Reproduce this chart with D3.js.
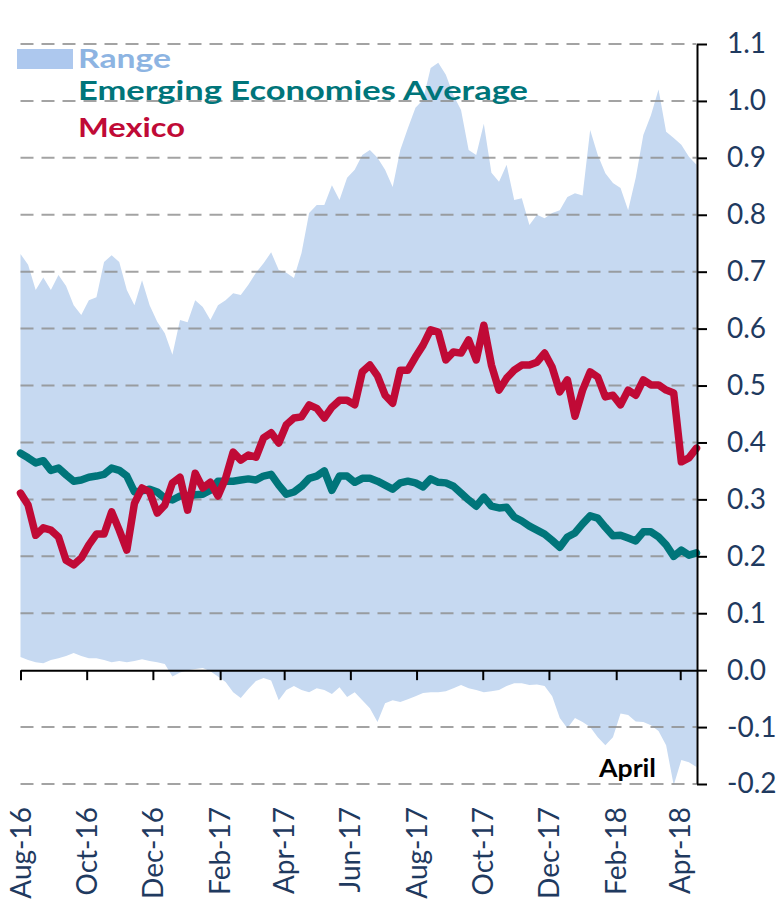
<!DOCTYPE html>
<html>
<head>
<meta charset="utf-8">
<script src="https://cdn.jsdelivr.net/npm/d3@7/dist/d3.min.js"></script>
<style>
  html, body { margin: 0; padding: 0; background: #fff; }
  svg { display: block; font-family: Lato, "Open Sans", sans-serif; }
</style>
</head>
<body>
<svg id="chart" width="778" height="901"></svg>
<script>
// Weekly observations, Aug-2016 to mid-Apr-2018
const rangeHigh = [0.731,0.712,0.668,0.690,0.668,0.694,0.675,0.641,0.624,0.650,
  0.655,0.717,0.729,0.717,0.668,0.641,0.685,0.641,0.612,0.592,
  0.554,0.615,0.611,0.650,0.638,0.615,0.641,0.650,0.662,0.659,
  0.677,0.698,0.715,0.734,0.703,0.698,0.689,0.733,0.803,0.817,
  0.817,0.852,0.826,0.865,0.879,0.905,0.914,0.900,0.879,0.849,
  0.914,0.952,0.988,1.002,1.058,1.067,1.046,1.010,0.984,0.914,
  0.905,0.960,0.874,0.858,0.888,0.826,0.829,0.782,0.800,0.794,
  0.803,0.808,0.831,0.838,0.834,0.949,0.905,0.873,0.856,0.847,
  0.808,0.865,0.940,0.975,1.020,0.946,0.935,0.923,0.902,0.888];

const rangeLow = [0.023,0.018,0.014,0.012,0.018,0.021,0.025,0.030,0.025,0.021,
  0.021,0.018,0.014,0.016,0.014,0.016,0.019,0.016,0.014,0.011,
  -0.011,-0.004,0.000,0.002,0.004,-0.002,-0.011,-0.021,-0.039,-0.049,
  -0.033,-0.019,-0.014,-0.018,-0.053,-0.035,-0.028,-0.035,-0.039,-0.032,
  -0.035,-0.042,-0.030,-0.047,-0.039,-0.053,-0.067,-0.091,-0.058,-0.053,
  -0.056,-0.051,-0.046,-0.040,-0.039,-0.039,-0.037,-0.032,-0.026,-0.032,
  -0.035,-0.039,-0.037,-0.035,-0.028,-0.023,-0.023,-0.026,-0.025,-0.028,
  -0.046,-0.084,-0.102,-0.084,-0.091,-0.100,-0.118,-0.132,-0.118,-0.076,
  -0.079,-0.090,-0.091,-0.097,-0.107,-0.132,-0.202,-0.158,-0.162,-0.170];

const emAverage = [0.381,0.373,0.364,0.368,0.351,0.355,0.343,0.332,0.334,0.339,
  0.341,0.344,0.355,0.351,0.341,0.313,0.315,0.318,0.313,0.302,
  0.299,0.306,0.306,0.308,0.309,0.316,0.332,0.332,0.332,0.334,
  0.336,0.334,0.341,0.344,0.325,0.309,0.313,0.323,0.337,0.341,
  0.350,0.316,0.341,0.341,0.330,0.337,0.337,0.332,0.325,0.318,
  0.329,0.332,0.329,0.322,0.336,0.330,0.329,0.323,0.311,0.299,
  0.288,0.304,0.288,0.285,0.286,0.269,0.262,0.253,0.246,0.239,
  0.228,0.216,0.234,0.241,0.257,0.271,0.267,0.251,0.236,0.237,
  0.232,0.227,0.243,0.243,0.234,0.220,0.200,0.211,0.202,0.206];

const mexico = [0.311,0.290,0.237,0.250,0.246,0.234,0.193,0.185,0.197,0.220,
  0.239,0.239,0.278,0.246,0.211,0.293,0.320,0.313,0.276,0.290,
  0.329,0.339,0.281,0.346,0.320,0.330,0.306,0.337,0.383,0.369,
  0.378,0.374,0.408,0.417,0.399,0.431,0.443,0.445,0.466,0.460,
  0.443,0.462,0.474,0.474,0.466,0.524,0.536,0.517,0.483,0.469,
  0.527,0.527,0.550,0.571,0.598,0.594,0.545,0.559,0.557,0.580,
  0.545,0.606,0.536,0.492,0.513,0.527,0.536,0.536,0.541,0.557,
  0.532,0.489,0.510,0.446,0.492,0.524,0.515,0.480,0.483,0.466,
  0.492,0.483,0.510,0.501,0.501,0.492,0.487,0.366,0.373,0.390];

const xTickLabels = ["Aug-16","Oct-16","Dec-16","Feb-17","Apr-17","Jun-17",
  "Aug-17","Oct-17","Dec-17","Feb-18","Apr-18"];
const yTicks = [1.1,1.0,0.9,0.8,0.7,0.6,0.5,0.4,0.3,0.2,0.1,0.0,-0.1,-0.2];
const legendItems = ["Range","Emerging Economies Average","Mexico"];
const annotation = "April";

// Observation dates: every Monday from 1 Aug 2016
const dates = d3.timeMonday.range(new Date(2016, 7, 1), new Date(2018, 3, 17));
const parseTick = d3.timeParse("%b-%y");
const xTickDates = xTickLabels.map(parseTick);

const colors = {
  area: "#c6d9f1",
  legendSwatch: "#adc8ee",
  legendRange: "#8db4e2",
  em: "#00757a",
  mx: "#c00a36",
  tickText: "#1f3a5f",
  grid: "#8c8c8c"
};

const svg = d3.select("#chart");
const x = d3.scaleTime().domain([dates[0], dates[dates.length - 1]]).range([20.5, 696.5]);
const y = d3.scaleLinear().domain([-0.2, 1.1]).range([784, 44]);

const rows = dates.map((d, i) => ({
  date: d, hi: rangeHigh[i], lo: rangeLow[i], em: emAverage[i], mx: mexico[i]
}));

// Range band
svg.append("path")
  .datum(rows)
  .attr("fill", colors.area)
  .attr("d", d3.area().x(d => x(d.date)).y0(d => y(d.lo)).y1(d => y(d.hi)));

// Dashed horizontal gridlines
svg.append("g")
  .selectAll("line")
  .data(yTicks.filter(v => v !== 0))
  .join("line")
  .attr("x1", 20.5).attr("x2", 696.5)
  .attr("y1", d => y(d)).attr("y2", d => y(d))
  .attr("stroke", colors.grid)
  .attr("stroke-opacity", 0.8)
  .attr("stroke-width", 2)
  .attr("stroke-dasharray", "13,8");

// Series lines
const lineOf = key => d3.line().x(d => x(d.date)).y(d => y(d[key]));
svg.append("path").datum(rows)
  .attr("fill", "none").attr("stroke", colors.em).attr("stroke-width", 7.5)
  .attr("stroke-linejoin", "round").attr("stroke-linecap", "round")
  .attr("d", lineOf("em"));
svg.append("path").datum(rows)
  .attr("fill", "none").attr("stroke", colors.mx).attr("stroke-width", 7.5)
  .attr("stroke-linejoin", "round").attr("stroke-linecap", "round")
  .attr("d", lineOf("mx"));

// Horizontal axis on the zero line
const xAxis = svg.append("g")
  .attr("transform", `translate(0,${y(0)})`)
  .call(d3.axisBottom(x).tickValues(xTickDates).tickSize(10).tickSizeOuter(0).tickFormat(""));
xAxis.select(".domain").attr("stroke", "#000").attr("stroke-width", 2);
xAxis.selectAll(".tick line").attr("stroke", "#000").attr("stroke-width", 2);

// Rotated month labels beneath the plot
svg.append("g")
  .selectAll("text")
  .data(xTickDates)
  .join("text")
  .attr("transform", d => `translate(${x(d)},807) rotate(-90)`)
  .attr("text-anchor", "end")
  .attr("dy", "0.36em")
  .attr("font-size", 28)
  .attr("fill", colors.tickText)
  .text((d, i) => xTickLabels[i]);

// Right-hand value axis
const fmt = d3.formatLocale({decimal: ".", thousands: ",", grouping: [3], currency: ["", ""], minus: "-"}).format(".1f");
const yAxis = svg.append("g")
  .attr("transform", "translate(697,0)")
  .call(d3.axisRight(y).tickValues(yTicks).tickSize(10).tickSizeOuter(0).tickPadding(20).tickFormat(fmt));
yAxis.select(".domain").attr("stroke", "#000").attr("stroke-width", 2);
yAxis.selectAll(".tick line").attr("stroke", "#000").attr("stroke-width", 2);
yAxis.selectAll(".tick text")
  .attr("font-family", "Lato, 'Open Sans', sans-serif")
  .attr("font-size", 28)
  .attr("fill", colors.tickText);

// Legend
svg.append("rect")
  .attr("x", 17).attr("y", 49).attr("width", 56).attr("height", 20)
  .attr("fill", colors.legendSwatch);
const legendSpec = [
  {text: legendItems[0], y: 68, color: colors.legendRange, w: 93},
  {text: legendItems[1], y: 100, color: colors.em, w: 450},
  {text: legendItems[2], y: 137, color: colors.mx, w: 107}
];
svg.append("g")
  .selectAll("text")
  .data(legendSpec)
  .join("text")
  .attr("x", 78).attr("y", d => d.y)
  .attr("font-size", 26).attr("font-weight", 700)
  .attr("fill", d => d.color)
  .attr("textLength", d => d.w)
  .attr("lengthAdjust", "spacingAndGlyphs")
  .text(d => d.text);

// Annotation
svg.append("text")
  .attr("x", 599).attr("y", 777)
  .attr("font-size", 25).attr("font-weight", 700)
  .attr("fill", "#000")
  .attr("textLength", 57).attr("lengthAdjust", "spacingAndGlyphs")
  .text(annotation);
</script>
</body>
</html>
